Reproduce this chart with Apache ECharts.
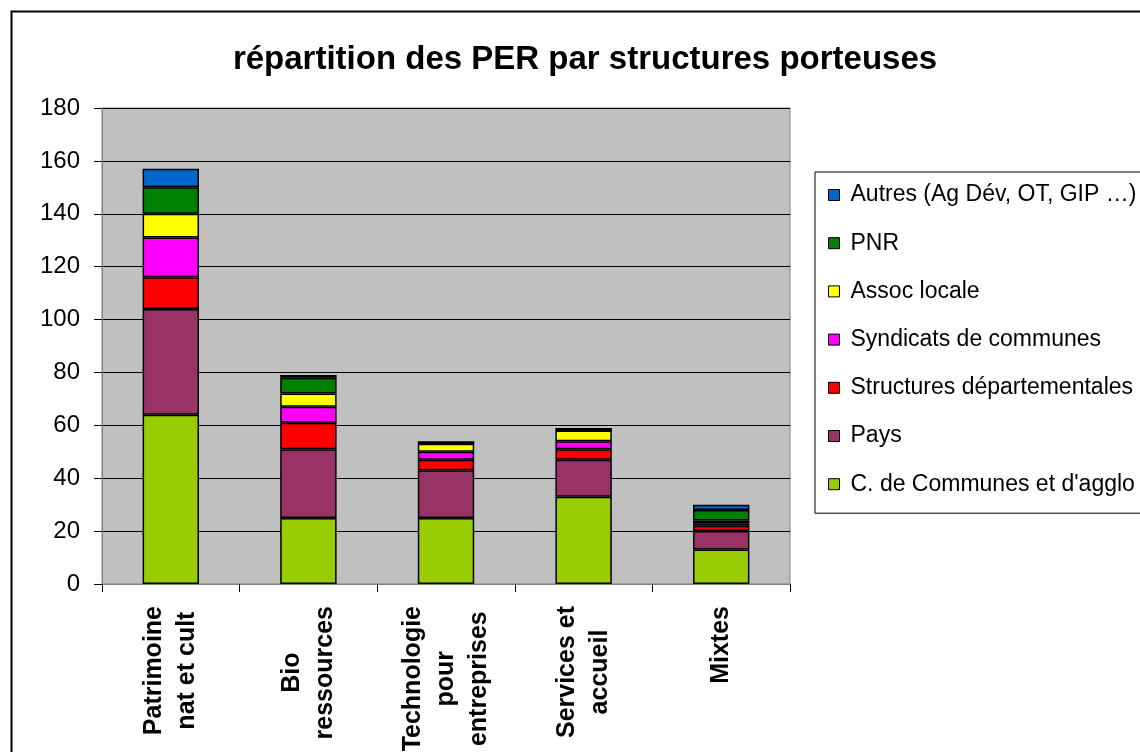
<!DOCTYPE html>
<html>
<head>
<meta charset="utf-8">
<script src="https://cdn.jsdelivr.net/npm/echarts@6/dist/echarts.min.js"></script>
<style>
  html, body { margin: 0; padding: 0; background: #fff; }
  #chart { width: 1140px; height: 752px; }
</style>
</head>
<body>
<div id="chart"></div>
<script>
// catégories (axe X)
const categories = ['Patrimoine\nnat et cult', 'Bio\nressources', 'Technologie\npour\nentreprises', 'Services et\naccueil', 'Mixtes']
const yTicks = [0, 20, 40, 60, 80, 100, 120, 140, 160, 180]

// séries, du bas vers le haut de la pile
const ccAgglo = [64, 25, 25, 33, 13]
const pays = [40, 26, 18, 14, 7]
const structDep = [12, 10, 4, 4, 2]
const syndicats = [15, 6, 3, 3, 1]
const assocLocale = [9, 5, 3, 4, 1]
const pnr = [10, 6, 0, 0, 4]
const autres = [7, 1, 1, 1, 2]

const seriesDefs = [
  { name: 'C. de Communes et d\'agglo', data: ccAgglo, color: '#99CC00' },
  { name: 'Pays', data: pays, color: '#993366' },
  { name: 'Structures départementales', data: structDep, color: '#FF0000' },
  { name: 'Syndicats de communes', data: syndicats, color: '#FF00FF' },
  { name: 'Assoc locale', data: assocLocale, color: '#FFFF00' },
  { name: 'PNR', data: pnr, color: '#008000' },
  { name: 'Autres (Ag Dév, OT, GIP …)', data: autres, color: '#0066CC' }
]

const FONT = 'Liberation Sans, Arial, sans-serif'
const chart = echarts.init(document.getElementById('chart'), null, { renderer: 'canvas' })

const options = {
  backgroundColor: '#fff',
  animation: false,
  textStyle: { fontFamily: FONT },
  title: {
    text: 'répartition des PER par structures porteuses',
    left: 580,
    textAlign: 'center',
    top: 38,
    textStyle: { fontSize: 33, fontWeight: 'bold', color: '#000', fontFamily: FONT }
  },
  graphic: [
    // cadre extérieur
    { type: 'rect', left: 9, top: 9, shape: { width: 1140, height: 760 },
      style: { fill: null, stroke: '#000', lineWidth: 2 }, silent: true, z: 0 }
  ],
  legend: {
    orient: 'vertical',
    left: 815,
    top: 172,
    data: seriesDefs.map(s => s.name).reverse(),
    icon: 'rect',
    itemWidth: 11,
    itemHeight: 11,
    itemGap: 22.2,
    padding: [10, 40, 16, 13],
    borderColor: '#000',
    borderWidth: 1,
    backgroundColor: '#fff',
    itemStyle: { borderColor: '#000', borderWidth: 1 },
    textStyle: { fontSize: 23, color: '#000', padding: [0, 0, 0, 6], lineHeight: 26, fontFamily: FONT }
  },
  grid: {
    left: 102,
    right: 350,
    top: 108,
    bottom: 168,
    outerBoundsMode: 'none',
    containLabel: false,
    show: true,
    backgroundColor: '#C0C0C0',
    borderColor: '#808080',
    borderWidth: 1
  },
  xAxis: {
    type: 'category',
    data: categories,
    axisLine: { show: true, lineStyle: { color: '#808080', width: 1 } },
    axisTick: { show: true, alignWithLabel: false, length: 8, lineStyle: { color: '#000' } },
    axisLabel: {
      rotate: 90,
      interval: 0,
      margin: 22,
      fontSize: 25,
      fontWeight: 'bold',
      color: '#000',
      lineHeight: 33,
      formatter: v => v.split('\n').map(l => '{c|' + l + '}').join('\n'),
      rich: { c: { align: 'center', fontSize: 25, fontWeight: 'bold', color: '#000', lineHeight: 33, fontFamily: FONT } }
    }
  },
  yAxis: {
    type: 'value',
    min: 0,
    max: yTicks[yTicks.length - 1],
    interval: 20,
    axisLine: { show: true, lineStyle: { color: '#808080' } },
    axisTick: { show: true, length: 8, lineStyle: { color: '#000' } },
    axisLabel: { fontSize: 24, color: '#000', margin: 22, fontFamily: FONT },
    splitLine: { show: true, lineStyle: { color: '#000', width: 1 } }
  },
  series: seriesDefs.map(s => ({
    name: s.name,
    type: 'bar',
    stack: 'total',
    barWidth: '41%',
    data: s.data,
    itemStyle: { color: s.color, borderColor: '#000', borderWidth: 1.5 }
  }))
}

chart.setOption(options)
</script>
</body>
</html>
